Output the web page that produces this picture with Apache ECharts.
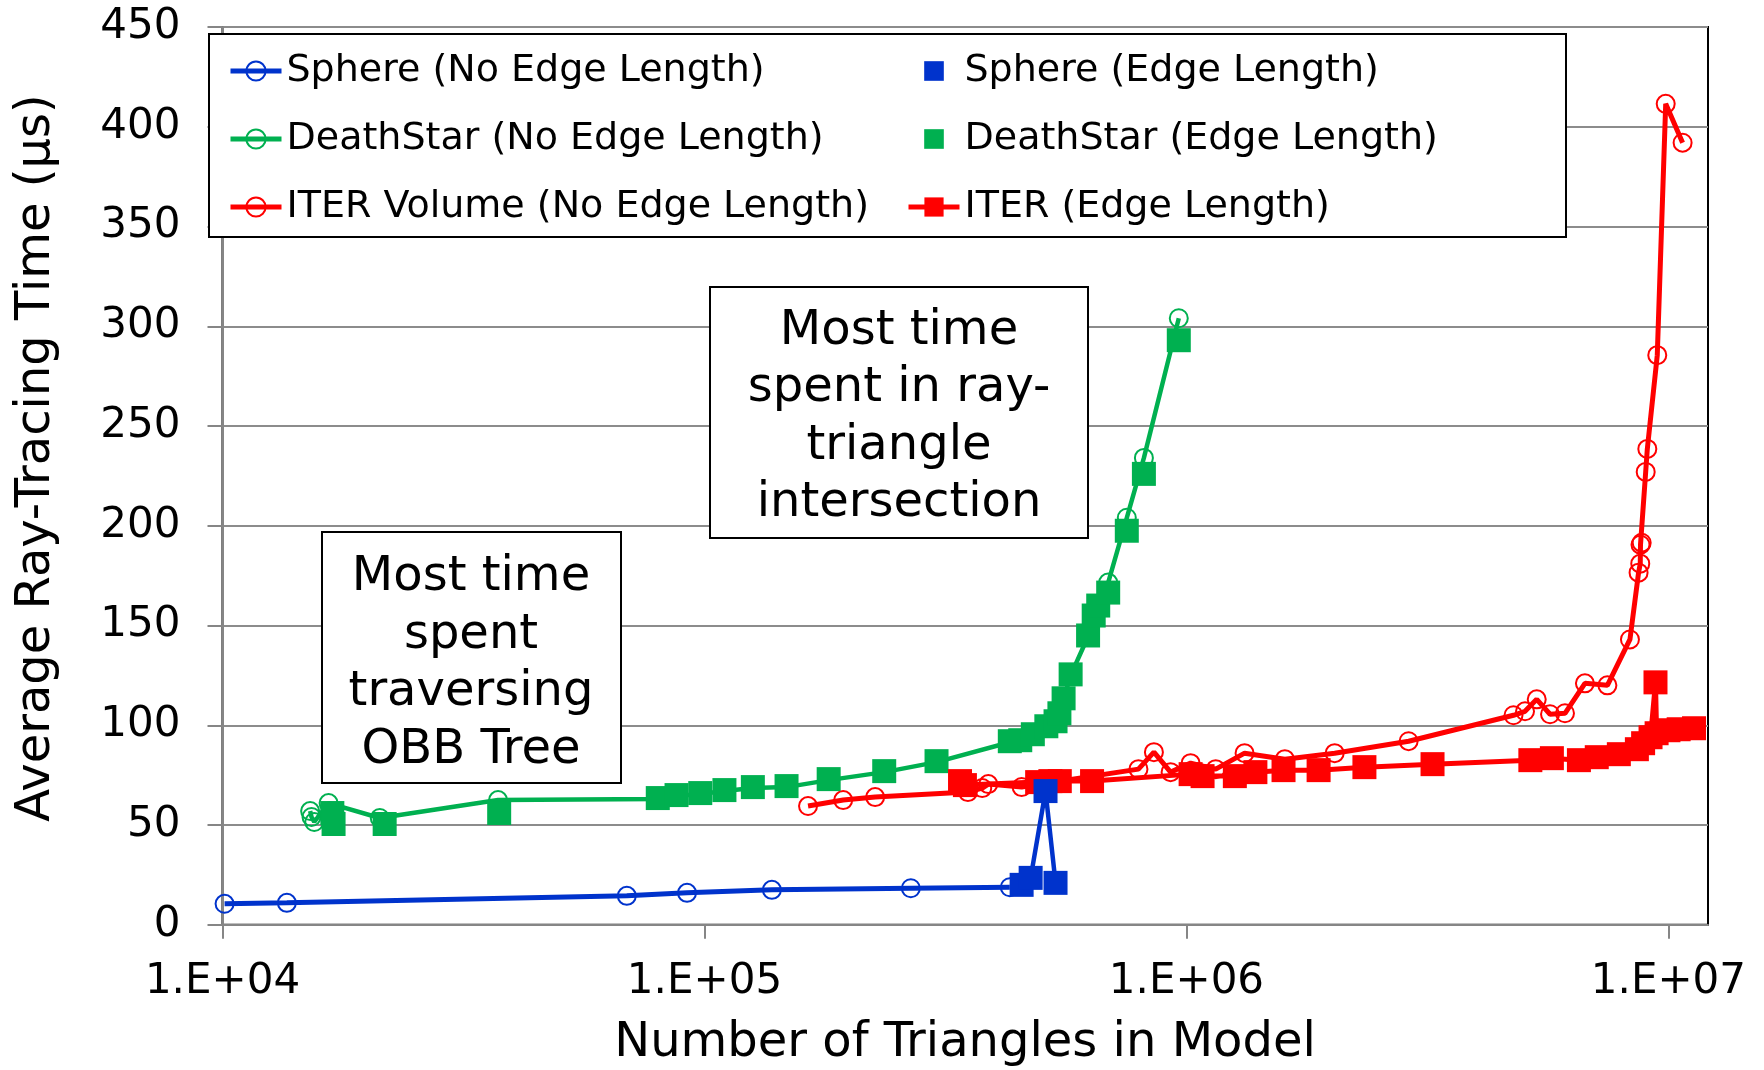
<!DOCTYPE html>
<html>
<head>
<meta charset="utf-8">
<script src="https://cdn.jsdelivr.net/npm/echarts@6/dist/echarts.min.js"></script>
<style>html,body{margin:0;padding:0;background:#fff}#c{width:1764px;height:1070px}</style>
</head>
<body>
<div id="c"></div>
<script>
const FONT = 'DejaVu Sans';
const BLUE = '#0033CC', GREEN = '#00B050', RED = '#FF0000';

const xTickValues = [1e4, 1e5, 1e6, 1e7];
const yTickValues = [0, 50, 100, 150, 200, 250, 300, 350, 400, 450];

const seriesNames = {
  sphereNo: 'Sphere (No Edge Length)',
  sphereEdge: 'Sphere (Edge Length)',
  deathNo: 'DeathStar (No Edge Length)',
  deathEdge: 'DeathStar (Edge Length)',
  iterNo: 'ITER Volume (No Edge Length)',
  iterEdge: 'ITER (Edge Length)'
};

const sphereNoEdge = [
  [1.01e4, 10.5], [1.36e4, 11], [6.9e4, 14.5], [9.2e4, 16], [1.38e5, 17.5], [2.68e5, 18.3], [4.3e5, 18.8]
];
const sphereEdge = [
  [4.55e5, 20], [4.75e5, 23.5], [5.1e5, 67], [5.35e5, 21]
];
const deathStarNoEdge = [
  [1.52e4, 57], [1.53e4, 54], [1.55e4, 51.5], [1.66e4, 61], [2.12e4, 53.5], [3.73e4, 62.5],
  [8.0e4, 63], [8.75e4, 64.5], [9.8e4, 65.5], [1.10e5, 67], [1.26e5, 68.5], [1.48e5, 69],
  [1.81e5, 72.5], [2.36e5, 76.5], [3.03e5, 81.5], [4.3e5, 91.5], [4.52e5, 92], [4.8e5, 95],
  [5.12e5, 99], [5.35e5, 101.5], [5.45e5, 105.5], [5.56e5, 113], [5.75e5, 125], [6.25e5, 144.5],
  [6.42e5, 154.5], [6.56e5, 159.5], [6.88e5, 171.5], [7.52e5, 204], [8.16e5, 234], [9.64e5, 304]
];
const deathStarEdge = [
  [1.69e4, 56], [1.70e4, 50.5], [2.17e4, 50.5], [3.75e4, 56], [8.0e4, 63.5], [8.75e4, 65],
  [9.8e4, 66], [1.10e5, 67.5], [1.26e5, 69], [1.48e5, 69.5], [1.81e5, 73], [2.36e5, 77],
  [3.03e5, 82], [4.3e5, 92], [4.52e5, 92.5], [4.8e5, 95.5], [5.12e5, 99.5], [5.35e5, 102],
  [5.45e5, 106], [5.56e5, 113.5], [5.75e5, 125.5], [6.25e5, 145], [6.42e5, 155], [6.56e5, 160],
  [6.88e5, 166.5], [7.52e5, 197.5], [8.16e5, 226], [9.64e5, 293]
];
const iterNoEdge = [
  [1.64e5, 59.5], [1.94e5, 62.5], [2.26e5, 64], [3.52e5, 66.5], [3.77e5, 68.5], [3.88e5, 70.5],
  [4.55e5, 69], [7.95e5, 78], [8.56e5, 86.5], [9.27e5, 76.5], [1.02e6, 81], [1.15e6, 78],
  [1.32e6, 86], [1.6e6, 83], [2.03e6, 86], [2.89e6, 92], [4.77e6, 105], [5.04e6, 107],
  [5.33e6, 113], [5.68e6, 105.5], [6.1e6, 106], [6.71e6, 121], [7.47e6, 120], [8.32e6, 143],
  [8.67e6, 176.5], [8.74e6, 181], [8.75e6, 190.5], [8.8e6, 191.5], [8.97e6, 227], [9.04e6, 238.5],
  [9.48e6, 285.5], [9.87e6, 411.5], [1.07e7, 392]
];
const iterEdge = [
  [3.39e5, 72], [3.47e5, 70], [4.9e5, 71.5], [5.22e5, 72], [5.46e5, 72], [6.37e5, 72],
  [1.02e6, 75.5], [1.08e6, 74.5], [1.26e6, 74.5], [1.39e6, 76.5], [1.59e6, 77.5], [1.88e6, 77.5],
  [2.34e6, 79], [3.24e6, 80.5], [5.17e6, 82.5], [5.73e6, 83.5], [6.52e6, 82.5], [7.1e6, 84],
  [7.89e6, 85.5], [8.6e6, 88], [8.86e6, 91], [9.18e6, 94], [9.4e6, 121.5], [9.45e6, 96],
  [1.0e7, 97.5], [1.05e7, 98], [1.13e7, 98.5]
];

const annotationObb = 'Most time\nspent\ntraversing\nOBB Tree';
const annotationRay = 'Most time\nspent in ray-\ntriangle\nintersection';
const xAxisTitle = 'Number of Triangles in Model';
const yAxisTitle = 'Average Ray-Tracing Time (μs)';

function noEdgeSeries(name, data, color, lw) {
  return {
    name, type: 'line', data,
    symbol: 'circle', symbolSize: 18,
    lineStyle: { color, width: lw },
    itemStyle: { color: 'rgba(255,255,255,0)', borderColor: color, borderWidth: 2 },
    emphasis: { disabled: true },
    z: 2
  };
}
function edgeSeries(name, data, color, lw) {
  return {
    name, type: 'line', data,
    symbol: 'rect', symbolSize: 24,
    lineStyle: lw > 0 ? { color, width: lw } : { color: 'rgba(0,0,0,0)', width: 0 },
    itemStyle: { color },
    emphasis: { disabled: true },
    z: 2
  };
}

const chart = echarts.init(document.getElementById('c'), null, { renderer: 'canvas' });
const legendText = { fontFamily: FONT, fontSize: 38, color: '#000', lineHeight: 40 };
const axisGray = '#868686';
const squareIcon = 'path://M0,0M11,11M1,1h9v9h-9z';
const circleIcon = c => ({ color: 'rgba(255,255,255,0)', borderColor: c, borderWidth: 2 });

chart.setOption({
  animation: false,
  backgroundColor: '#fff',
  grid: {
    left: 222.5, right: 56, top: 27, bottom: 145.25,
    containLabel: false, outerBoundsMode: 'none',
    show: true, borderColor: '#000', borderWidth: 2, backgroundColor: 'rgba(0,0,0,0)'
  },
  legend: [
    {
      orient: 'vertical', left: 228, top: 51, itemWidth: 51, itemHeight: 24, itemGap: 28,
      selectedMode: false, textStyle: legendText, padding: 0,
      lineStyle: { width: 5 },
      data: [
        { name: seriesNames.sphereNo, itemStyle: circleIcon(BLUE), lineStyle: { width: 5, color: BLUE } },
        { name: seriesNames.deathNo, itemStyle: circleIcon(GREEN), lineStyle: { width: 5, color: GREEN } },
        { name: seriesNames.iterNo, itemStyle: circleIcon(RED), lineStyle: { width: 5, color: RED } }
      ]
    },
    {
      orient: 'vertical', left: 906, top: 51, itemWidth: 51, itemHeight: 24, itemGap: 28,
      selectedMode: false, textStyle: legendText, padding: 0,
      lineStyle: { width: 5 },
      data: [
        { name: seriesNames.sphereEdge, icon: squareIcon, itemStyle: { color: BLUE } },
        { name: seriesNames.deathEdge, icon: squareIcon, itemStyle: { color: GREEN } },
        { name: seriesNames.iterEdge, lineStyle: { width: 5, color: RED } }
      ]
    }
  ],
  xAxis: {
    type: 'log', logBase: 10, min: 1e4, max: 1.208e7,
    axisLine: { show: true, lineStyle: { color: axisGray, width: 2 } },
    axisTick: { show: true, inside: false, length: 14, lineStyle: { color: axisGray, width: 2 }, customValues: xTickValues },
    axisLabel: {
      customValues: xTickValues,
      fontFamily: FONT, fontSize: 42, color: '#000', margin: 36,
      formatter: function (v) {
        const e = Math.log10(v);
        if (Math.abs(e - Math.round(e)) > 1e-6) return '';
        const n = Math.round(e);
        return '1.E+' + (n < 10 ? '0' + n : n);
      }
    },
    splitLine: { show: false },
    minorTick: { show: false }
  },
  yAxis: {
    type: 'value', min: 0, max: 450, interval: 50,
    axisLine: { show: true, lineStyle: { color: axisGray, width: 2 } },
    axisTick: { show: true, inside: false, length: 15, lineStyle: { color: axisGray, width: 2 } },
    axisLabel: { fontFamily: FONT, fontSize: 42, color: '#000', margin: 42 },
    splitLine: { show: true, lineStyle: { color: '#8c8c8c', width: 2 } }
  },
  series: [
    noEdgeSeries(seriesNames.sphereNo, sphereNoEdge, BLUE, 5),
    noEdgeSeries(seriesNames.deathNo, deathStarNoEdge, GREEN, 4.5),
    noEdgeSeries(seriesNames.iterNo, iterNoEdge, RED, 5),
    edgeSeries(seriesNames.deathEdge, deathStarEdge, GREEN, 0),
    edgeSeries(seriesNames.iterEdge, iterEdge, RED, 5),
    edgeSeries(seriesNames.sphereEdge, sphereEdge, BLUE, 4.5)
  ],
  graphic: [
    { type: 'rect', z: 3, shape: { x: 209, y: 34, width: 1357, height: 203 }, style: { fill: '#fff', stroke: '#000', lineWidth: 2 } },
    { type: 'rect', z: 3, shape: { x: 710, y: 287, width: 378, height: 251 }, style: { fill: '#fff', stroke: '#000', lineWidth: 2 } },
    { type: 'text', z: 3, x: 899, y: 417.5, style: { text: annotationRay, textAlign: 'center', textVerticalAlign: 'middle', font: '48px "DejaVu Sans"', lineHeight: 57.5, fill: '#000' } },
    { type: 'rect', z: 3, shape: { x: 322, y: 532, width: 299, height: 251 }, style: { fill: '#fff', stroke: '#000', lineWidth: 2 } },
    { type: 'text', z: 3, x: 471, y: 664, style: { text: annotationObb, textAlign: 'center', textVerticalAlign: 'middle', font: '48px "DejaVu Sans"', lineHeight: 57.5, fill: '#000' } },
    { type: 'text', z: 3, x: 965, y: 1044, style: { text: xAxisTitle, textAlign: 'center', textVerticalAlign: 'middle', font: '48px "DejaVu Sans"', fill: '#000' } },
    { type: 'text', z: 3, x: 37, y: 458, rotation: Math.PI / 2, style: { text: yAxisTitle, textAlign: 'center', textVerticalAlign: 'middle', font: '48px "DejaVu Sans"', fill: '#000' } }
  ]
});
</script>
</body>
</html>
